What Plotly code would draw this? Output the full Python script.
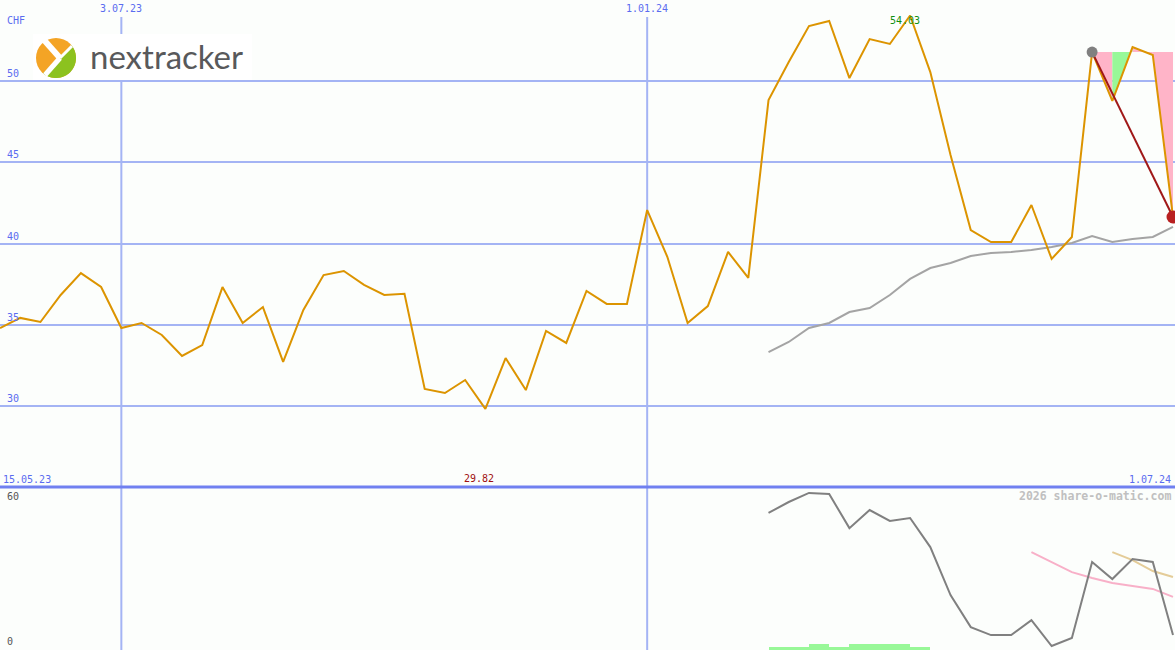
import math
import pandas as pd
import plotly.graph_objects as go

# ---------------- data ----------------
start_date = "2023-05-22"
n_weeks = 59
price = [34.80, 35.42, 35.17, 36.83, 38.18, 37.32, 34.80, 35.11, 34.37, 33.08,
         33.75, 37.32, 35.11, 36.09, 32.71, 35.91, 38.06, 38.31, 37.45, 36.83,
         36.90, 31.05, 30.80, 31.60, 29.82, 32.95, 30.98, 34.62, 33.88, 37.08,
         36.28, 36.28, 42.06, 39.17, 35.11, 36.15, 39.48, 37.88, 48.83, 51.17,
         53.38, 53.69, 50.18, 52.58, 52.28, 54.03, 50.55, 45.45, 40.83, 40.09,
         40.09, 42.37, 39.05, 40.40, 51.78, 48.77, 52.09, 51.60, 41.63]
ma_start = 38
moving_avg = [33.32, 33.94, 34.80, 35.11, 35.78, 36.03, 36.83, 37.82, 38.49, 38.80,
              39.23, 39.42, 39.48, 39.60, 39.78, 40.03, 40.46, 40.09, 40.28, 40.40, 41.02]
ind_start = 38
indicator = [51.4, 55.5, 58.9, 58.5, 45.7, 52.5, 48.4, 49.5, 38.6, 20.6,
             8.6, 5.6, 5.6, 11.2, 1.5, 4.5, 33.0, 26.6, 34.1, 33.0, 5.6]
pink_start = 51
ind_ma_pink = [36.7, 33.0, 29.2, 27.0, 25.1, 24.0, 22.9, 19.9]
tan_start = 55
ind_ma_tan = [36.7, 33.7, 29.6, 27.4]
bars_start = 38
step_bars = [1.0, 1.0, 2.25, 1.0, 2.25, 2.25, 2.25, 1.0]
perf_start = 54
y_ticks = [30, 35, 40, 45, 50]
y_tick_labels = ["30", "35", "40", "45", "50"]
v_lines = ["2023-07-03", "2024-01-01"]
v_line_labels = ["3.07.23", "1.01.24"]
max_label = "54.03"
min_label = "29.82"

# ---------------- helpers ----------------
W, H = 1175, 650
dates = pd.date_range(start_date, periods=n_weeks, freq="7D")
d0, dN = dates[0], dates[-1]
x_end = d0 + (dN - d0) * (1175 / 1173)
BLUE = "#5a6cf0"
GRID = "#a4b4f4"
BG = "#fcfefc"
MONO = "DejaVu Sans Mono"


def px(x):
    return x / W


def py(y):
    return 1 - y / H


fig = go.Figure()

# performance fills
ref = price[perf_start]
for i in range(perf_start, n_weeks - 1):
    p0, p1 = price[i], price[i + 1]
    col = "#98f898" if p1 > p0 else "#ffb4c8"
    xs = [dates[i], dates[i], dates[i + 1], dates[i + 1], dates[i]]
    ys = [ref, p0, p1, ref, ref]
    fig.add_trace(go.Scatter(x=xs, y=ys, fill="toself", fillcolor=col, mode="none",
                             hoverinfo="skip", xaxis="x", yaxis="y"))

# moving average
fig.add_trace(go.Scatter(x=dates[ma_start:], y=moving_avg, mode="lines",
                         line=dict(color="#a4a4a4", width=2), xaxis="x", yaxis="y"))
# price
fig.add_trace(go.Scatter(x=dates, y=price, mode="lines",
                         line=dict(color="#dc9400", width=2), xaxis="x", yaxis="y"))
# performance line
fig.add_trace(go.Scatter(x=[dates[perf_start], dates[-1]], y=[price[perf_start], price[-1]],
                         mode="lines", line=dict(color="#a01818", width=2), xaxis="x", yaxis="y"))
fig.add_trace(go.Scatter(x=[dates[perf_start]], y=[price[perf_start]], mode="markers",
                         marker=dict(color="#808080", size=11), xaxis="x", yaxis="y"))
fig.add_trace(go.Scatter(x=[dates[-1]], y=[price[-1]], mode="markers",
                         marker=dict(color="#b82020", size=13), xaxis="x", yaxis="y",
                         cliponaxis=False))

# lower panel
bar_x = [d + pd.Timedelta(hours=84) for d in dates[bars_start:bars_start + len(step_bars)]]
fig.add_trace(go.Bar(x=bar_x, y=step_bars, width=7 * 24 * 3600 * 1000,
                     marker=dict(color="#98f898", line=dict(width=0)), xaxis="x2", yaxis="y2"))
fig.add_trace(go.Scatter(x=dates[pink_start:], y=ind_ma_pink, mode="lines",
                         line=dict(color="#f8b0c8", width=2), xaxis="x2", yaxis="y2"))
fig.add_trace(go.Scatter(x=dates[tan_start:], y=ind_ma_tan, mode="lines",
                         line=dict(color="#e4cc98", width=2), xaxis="x2", yaxis="y2"))
fig.add_trace(go.Scatter(x=dates[ind_start:], y=indicator, mode="lines",
                         line=dict(color="#808080", width=2), xaxis="x2", yaxis="y2"))

shapes = []
for d in v_lines:
    shapes.append(dict(type="line", xref="x", yref="paper", x0=d, x1=d, y0=0, y1=py(17),
                       line=dict(color=GRID, width=2), layer="below"))
shapes.append(dict(type="line", xref="paper", yref="paper", x0=0, x1=1, y0=py(487), y1=py(487),
                   line=dict(color="#7080f0", width=3), layer="above"))

# logo
shapes.append(dict(type="rect", xref="paper", yref="paper", x0=px(33), x1=px(252),
                   y0=py(80), y1=py(34), fillcolor="white", line=dict(width=0), layer="above"))
shapes.append(dict(type="circle", xref="paper", yref="paper", x0=px(36), x1=px(76),
                   y0=py(78), y1=py(38), fillcolor="#f4a425", line=dict(width=0), layer="above"))
cx, cy, r = 56, 58, 20
pts = []
for k in range(0, 33):
    a = math.radians(-40 + 170 * k / 32)
    pts.append((cx + r * math.cos(a), cy + r * math.sin(a)))
pts.append((58, 58))
path = "M " + " L ".join(f"{px(a):.5f},{py(b):.5f}" for a, b in pts) + " Z"
shapes.append(dict(type="path", xref="paper", yref="paper", path=path,
                   fillcolor="#8cc21f", line=dict(width=0), layer="above"))
for (a, b, c, d, w) in [(44, 40, 60, 58, 6), (60, 58, 45, 75, 5), (60, 58, 72, 46, 3)]:
    shapes.append(dict(type="line", xref="paper", yref="paper", x0=px(a), y0=py(b),
                       x1=px(c), y1=py(d), line=dict(color="white", width=w), layer="above"))

annotations = []
for v, t in zip(y_ticks, y_tick_labels):
    annotations.append(dict(x=px(5), y=v, xref="paper", yref="y", text=t, showarrow=False,
                            xanchor="left", yanchor="bottom", yshift=0,
                            font=dict(family=MONO, size=10, color=BLUE)))
annotations.append(dict(x=px(5), y=py(20), xref="paper", yref="paper", text="CHF",
                        showarrow=False, xanchor="left", yanchor="middle",
                        font=dict(family=MONO, size=10, color=BLUE)))
for d, t in zip(v_lines, v_line_labels):
    annotations.append(dict(x=d, y=py(8), xref="x", yref="paper", text=t, showarrow=False,
                            xanchor="center", yanchor="middle",
                            font=dict(family=MONO, size=10, color=BLUE)))
annotations.append(dict(x=px(1), y=py(479), xref="paper", yref="paper", text="15.05.23",
                        showarrow=False, xanchor="left", yanchor="middle",
                        font=dict(family=MONO, size=10, color=BLUE)))
annotations.append(dict(x=px(1173), y=py(479), xref="paper", yref="paper", text="1.07.24",
                        showarrow=False, xanchor="right", yanchor="middle",
                        font=dict(family=MONO, size=10, color=BLUE)))
imax = price.index(max(price))
imin = price.index(min(price))
annotations.append(dict(x=dates[imax], y=py(21), xref="x", yref="paper", text=max_label,
                        showarrow=False, xanchor="center", yanchor="middle", xshift=-5,
                        font=dict(family=MONO, size=10, color="#109010")))
annotations.append(dict(x=dates[imin], y=py(478), xref="x", yref="paper", text=min_label,
                        showarrow=False, xanchor="center", yanchor="middle", xshift=-6,
                        font=dict(family=MONO, size=10, color="#a01010")))
annotations.append(dict(x=px(5), y=py(496), xref="paper", yref="paper", text="60",
                        showarrow=False, xanchor="left", yanchor="middle",
                        font=dict(family=MONO, size=10, color="#555555")))
annotations.append(dict(x=px(5), y=py(641), xref="paper", yref="paper", text="0",
                        showarrow=False, xanchor="left", yanchor="middle",
                        font=dict(family=MONO, size=10, color="#555555")))
annotations.append(dict(x=px(1173), y=py(496), xref="paper", yref="paper",
                        text="<b>2026 share-o-matic.com</b>", showarrow=False,
                        xanchor="right", yanchor="middle",
                        font=dict(family=MONO, size=11.5, color="#c0c0c0")))
annotations.append(dict(x=px(88), y=py(56), xref="paper", yref="paper", text="nextracker",
                        showarrow=False, xanchor="left", yanchor="middle",
                        font=dict(family="Lato", size=33, color="#58595b")))

fig.update_layout(
    width=W, height=H, margin=dict(l=0, r=0, t=0, b=0),
    paper_bgcolor=BG, plot_bgcolor=BG, showlegend=False, bargap=0,
    xaxis=dict(type="date", range=[d0, x_end], showgrid=False, zeroline=False,
               showticklabels=False, anchor="y", domain=[0, 1]),
    xaxis2=dict(type="date", matches="x", showgrid=False, zeroline=False,
                showticklabels=False, anchor="y2", domain=[0, 1]),
    yaxis=dict(domain=[py(487), 1], range=[25.015, 54.985], tickvals=y_ticks,
               showticklabels=False, gridcolor=GRID, gridwidth=2, zeroline=False),
    yaxis2=dict(domain=[0, py(487)], range=[0, 61.125], showgrid=False, zeroline=False,
                showticklabels=False),
    shapes=shapes, annotations=annotations,
)
fig.write_html("out.html", config={"displayModeBar": False},
               post_script="document.body.style.margin='0';document.body.style.overflow='hidden';")
